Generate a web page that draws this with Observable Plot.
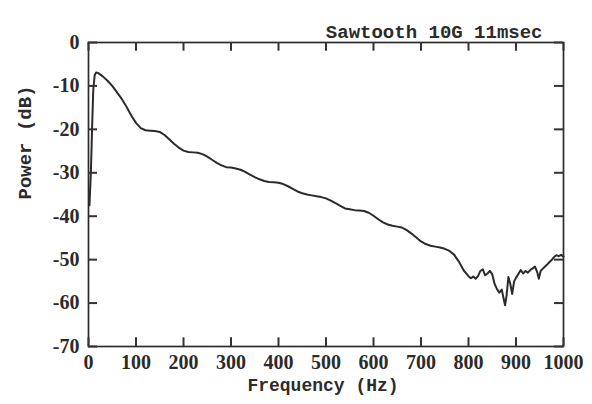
<!DOCTYPE html>
<html>
<head>
<meta charset="utf-8">
<script src="https://cdn.jsdelivr.net/npm/d3@7"></script>
<script src="https://cdn.jsdelivr.net/npm/@observablehq/plot@0.6"></script>
<style>
  html, body { margin: 0; padding: 0; background: #fff; }
</style>
</head>
<body>
<div id="chart"></div>
<script>
const title = "Sawtooth 10G 11msec";
const xLabel = "Frequency (Hz)";
const yLabel = "Power (dB)";
const xTicks = [0, 100, 200, 300, 400, 500, 600, 700, 800, 900, 1000];
const yTicks = [0, -10, -20, -30, -40, -50, -60, -70];

const freq = [
  2, 5, 8, 10, 13, 16, 20, 30, 40, 50, 60, 70, 80, 90, 100, 110, 120, 130, 140, 150,
  160, 170, 180, 190, 200, 210, 220, 230, 240, 250, 260, 270, 280, 290, 300, 310, 320, 330, 340, 350,
  360, 370, 380, 390, 400, 410, 420, 430, 440, 450, 460, 470, 480, 490, 500, 510, 520, 530, 540, 550,
  560, 570, 580, 590, 600, 610, 620, 630, 640, 650, 660, 670, 680, 690, 700, 710, 720, 730, 740, 750,
  760, 770, 780, 790, 800, 805, 810, 815, 820, 825, 830, 835, 840, 845, 850, 855, 860, 865, 870, 873,
  877, 880, 884, 888, 892, 896, 900, 905, 910, 915, 920, 925, 930, 935, 940, 945, 948, 952, 958, 965,
  970, 975, 980, 985, 990, 995, 1000
];
const power = [
  -37.5, -30, -18, -11, -7.5, -6.9, -7.0, -7.8, -8.8, -10, -11.5, -13, -14.8, -16.8, -18.5, -19.7, -20.2, -20.3, -20.4, -20.6,
  -21.3, -22.3, -23.3, -24.2, -24.9, -25.2, -25.3, -25.4, -25.7, -26.3, -27, -27.7, -28.3, -28.7, -28.8, -29, -29.3, -29.8, -30.4, -31,
  -31.5, -31.9, -32.1, -32.2, -32.3, -32.6, -33.1, -33.7, -34.3, -34.7, -35, -35.2, -35.4, -35.6, -35.9, -36.4, -37, -37.6, -38.2, -38.4,
  -38.6, -38.7, -38.8, -39.2, -39.9, -40.7, -41.4, -41.9, -42.2, -42.4, -42.6, -43.2, -44, -44.9, -45.8, -46.4, -46.8, -47, -47.2, -47.5,
  -48, -48.9, -50.5, -52.5, -53.8, -54.3, -53.9, -54.4, -53.8, -52.6, -52.2, -53.6, -53.2, -52.6, -53.4, -55.6, -56.8, -57.6, -56.9, -58.5,
  -60.5, -58.4, -54, -55.6, -57.9, -55, -54.2, -53.3, -52.4, -53.2, -52.6, -53, -52.4, -52, -51.6, -53, -54.4, -52.6, -51.9, -51.2,
  -50.6, -50.1, -49.4, -49, -49.2, -48.9, -49.3
];

const data = freq.map((f, i) => ({f, p: power[i]}));
const ink = "#2b2b2b";
const numFont = "'Liberation Serif', 'DejaVu Serif', serif";
const monoFont = "'Liberation Mono', 'DejaVu Sans Mono', monospace";
const tickLenDb = 2;     // tick length along y, in dB
const tickLenHz = 19;    // tick length along x, in Hz
const [x0, x1] = [0, 1000];
const [y0, y1] = [-70, 0];

const chart = Plot.plot({
  width: 592,
  height: 404,
  marginLeft: 88,
  marginRight: 29,
  marginTop: 42,
  marginBottom: 58,
  style: {background: "#fff", color: ink, fontFamily: numFont},
  x: {domain: [x0, x1]},
  y: {domain: [y0, y1]},
  marks: [
    Plot.frame({stroke: ink, strokeWidth: 1.7}),
    // tick labels
    Plot.axisX(xTicks, {anchor: "bottom", tickSize: 0, tickPadding: 8, fontSize: 20, fontWeight: "bold", fill: ink, label: null, fontFamily: numFont, tickFormat: d => String(d)}),
    Plot.axisY(yTicks, {anchor: "left", tickSize: 0, tickPadding: 9, fontSize: 20, fontWeight: "bold", fill: ink, label: null, fontFamily: numFont, tickFormat: d => (d < 0 ? "-" + Math.abs(d) : String(d))}),
    Plot.line(data, {x: "f", y: "p", stroke: ink, strokeWidth: 2, strokeLinejoin: "round"}),
    // inward ticks on all four sides
    Plot.ruleX(xTicks, {x: d => d, y1: y0, y2: y0 + tickLenDb, stroke: "#333", strokeWidth: 2}),
    Plot.ruleX(xTicks, {x: d => d, y1: y1, y2: y1 - tickLenDb, stroke: "#333", strokeWidth: 2}),
    Plot.ruleY(yTicks, {y: d => d, x1: x0, x2: x0 + tickLenHz, stroke: "#333", strokeWidth: 2}),
    Plot.ruleY(yTicks, {y: d => d, x1: x1, x2: x1 - tickLenHz, stroke: "#333", strokeWidth: 2}),
    Plot.text([title], {frameAnchor: "top-right", dx: -21, dy: -18, textAnchor: "end", fontSize: 19, fontWeight: "bold", fontFamily: monoFont, fill: ink}),
    Plot.text([xLabel], {frameAnchor: "bottom", dx: -3, dy: 44, fontSize: 18, fontWeight: "bold", fontFamily: monoFont, fill: ink}),
    Plot.text([yLabel], {frameAnchor: "left", dx: -64, dy: 5, rotate: -90, fontSize: 19, fontWeight: "bold", fontFamily: monoFont, fill: ink})
  ]
});
document.getElementById("chart").appendChild(chart);
</script>
</body>
</html>
